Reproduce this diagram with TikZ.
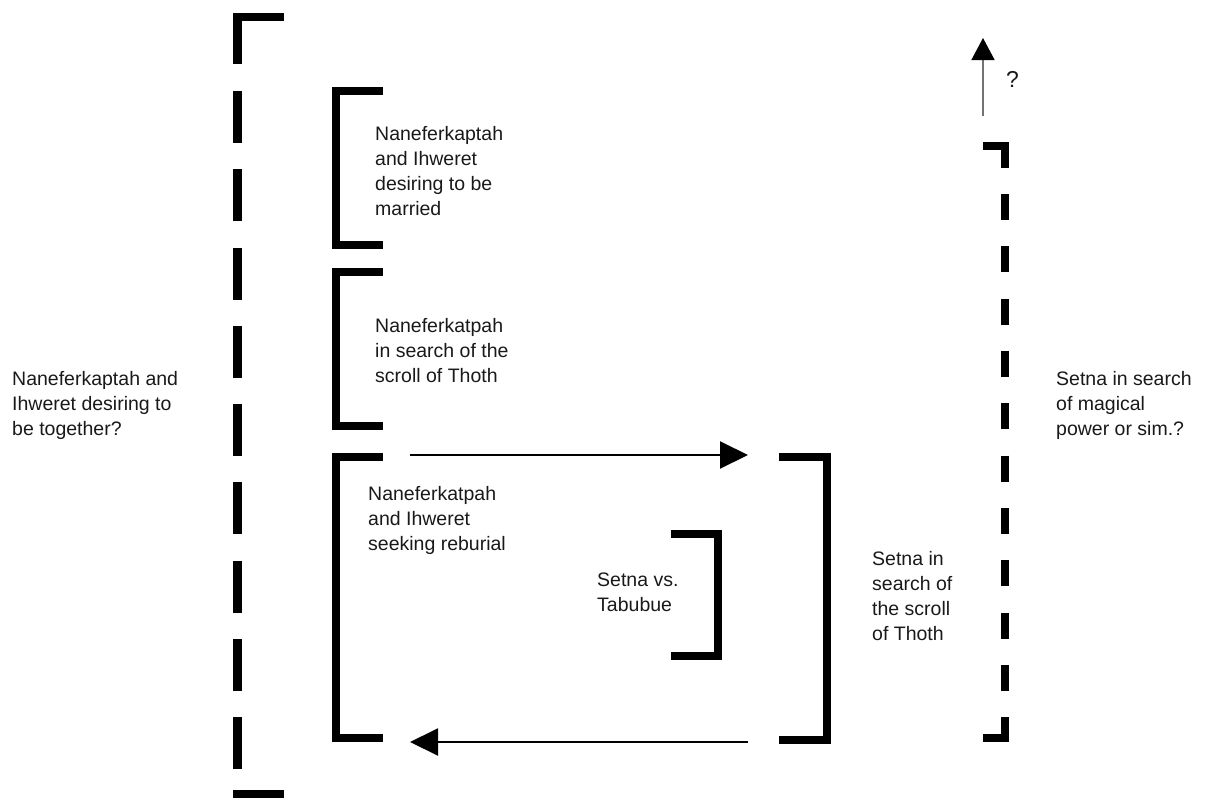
\documentclass[tikz,border=0pt]{standalone}
\usepackage{fontspec}
\setmainfont{Liberation Sans}
\usetikzlibrary{arrows.meta}
\begin{document}
\begin{tikzpicture}[x=1pt,y=-1pt,
  brk/.style={line width=8pt, line cap=butt, line join=miter},
  dbrk/.style={line width=8.5pt, line cap=butt, line join=miter},
  lbl/.style={anchor=north west, inner sep=0pt, align=left,
    font=\fontsize{19.5}{25}\selectfont, text=black!90},
  conn/.style={line width=2pt, -{Triangle[length=28pt,width=27pt]}},
  qconn/.style={line width=1.5pt, draw=black!55, -{Triangle[length=22pt,width=23pt,color=black]}},
]
\useasboundingbox (0,0) rectangle (1227,798);

% outer left dashed bracket
\draw[dbrk] (284,17) -- (237.5,17) -- (237.5,64);
\foreach \k in {0,...,8} \draw[dbrk] (237.5,{91+78.25*\k}) -- (237.5,{143+78.25*\k});
\draw[dbrk] (233.25,794.5) -- (284,794.5);

% outer right dashed bracket
\draw[dbrk] (983,146) -- (1005,146) -- (1005,168);
\foreach \k in {0,...,9} \draw[dbrk] (1005,{194+52.33*\k}) -- (1005,{220+52.33*\k});
\draw[dbrk] (1005,717) -- (1005,738) -- (983,738);

% inner solid brackets
\draw[brk] (383,91) -- (336,91) -- (336,245) -- (383,245);
\draw[brk] (383,272) -- (336,272) -- (336,426) -- (383,426);
\draw[brk] (383,457) -- (336,457) -- (336,738) -- (383,738);
\draw[brk] (779,457) -- (827,457) -- (827,740) -- (779,740);
\draw[brk] (671,534) -- (718,534) -- (718,656) -- (671,656);

% labels
\node[lbl] (t0) at (12,371) {Naneferkaptah and\\Ihweret desiring to\\be together?};
\node[lbl] (t1) at (375,126) {Naneferkaptah\\and Ihweret\\desiring to be\\married};
\node[lbl] (t2) at (375,318) {Naneferkatpah\\in search of the\\scroll of Thoth};
\node[lbl] (t3) at (368,486) {Naneferkatpah\\and Ihweret\\seeking reburial};
\node[lbl] (t4) at (597,573) {Setna vs.\\Tabubue};
\node[lbl] (t5) at (872,551) {Setna in\\search of\\the scroll\\of Thoth};
\node[lbl] (t6) at (1056,371) {Setna in search\\of magical\\power or sim.?};
\node[lbl, font=\fontsize{23}{25}\selectfont] (q) at (1006,71) {?};

% connectors
\coordinate (a1) at (410,455);
\coordinate (a2) at (748,455);
\coordinate (b1) at (748,742);
\coordinate (b2) at (410,742);
\coordinate (c1) at (983,116);
\coordinate (c2) at (983,38);
\draw[conn] (a1) -- (a2);
\draw[conn] (b1) -- (b2);
\draw[qconn] (c1) -- (c2);
\end{tikzpicture}
\end{document}
